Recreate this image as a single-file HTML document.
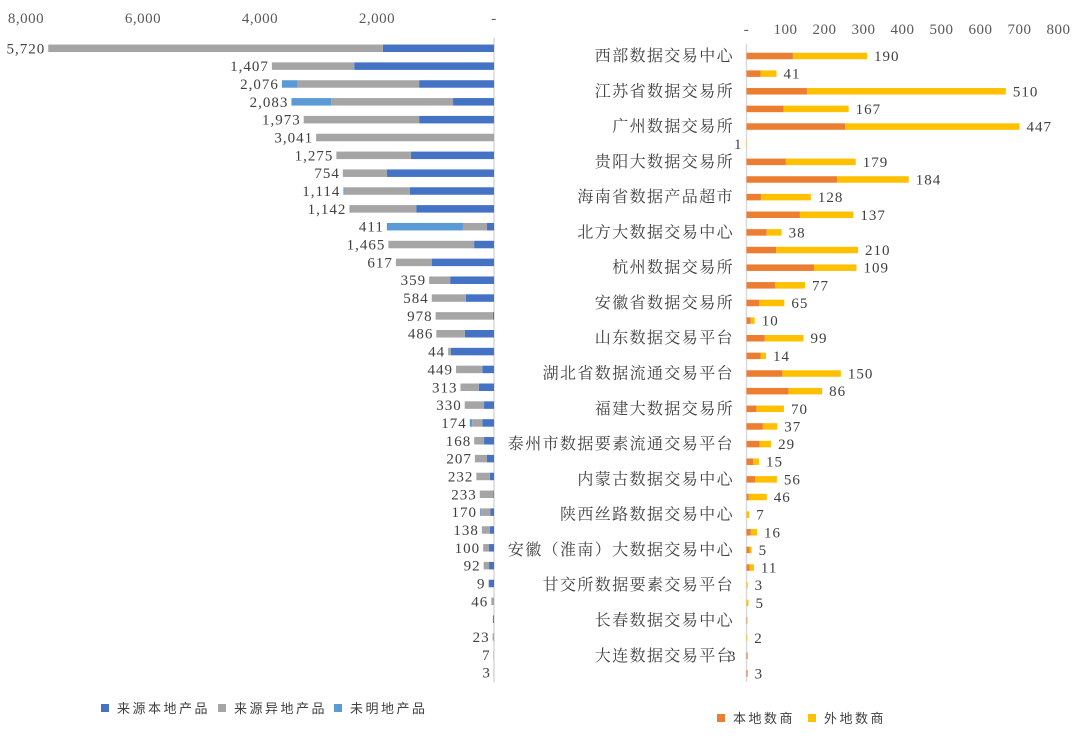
<!DOCTYPE html>
<html><head><meta charset="utf-8">
<style>
html,body{margin:0;padding:0;background:#fff;}
svg{display:block;font-family:"Liberation Serif","Noto Serif CJK SC",serif;}
.cat{font-family:"Liberation Serif","Noto Serif CJK SC",serif;font-size:16px;letter-spacing:1.4px;fill:#404040;}
.num{font-size:15px;letter-spacing:1px;fill:#404040;}
.tick{font-size:15px;letter-spacing:0.5px;fill:#595959;}
.leg{font-family:"Liberation Sans","Noto Sans CJK SC",sans-serif;font-size:13px;letter-spacing:2.5px;fill:#404040;}
</style></head>
<body>
<svg id="chart" width="1080" height="742" viewBox="0 0 1080 742" xmlns="http://www.w3.org/2000/svg"></svg>
<script>
// Left chart data (products)
const localProducts = [1900,2390,1280,700,1280,0,1420,1830,1440,1330,120,340,1060,750,480,20,500,740,200,260,170,200,170,120,70,10,60,70,85,85,85,0,15,0,0,0];
const remoteProducts = [5720,1407,2076,2083,1973,3041,1275,754,1114,1142,411,1465,617,359,584,978,486,44,449,313,330,174,168,207,232,233,170,138,100,92,9,46,0,23,7,3];
const unknownProducts = [0,0,270,680,0,0,0,0,20,0,1300,0,0,0,0,0,0,0,0,0,0,40,0,0,0,0,10,0,0,0,0,0,5,0,0,0];
const leftTicks = [8000,6000,4000,2000,0];
const leftTickLabels = ["8,000","6,000","4,000","2,000","-"];
// Right chart data (merchants)
const localMerchants = [119,36,155,95,253,0,101,232,37,137,52,76,173,73,32,11,47,36,92,108,26,42,34,17,22,6,0,11,8,8,0,0,2,0,3,3];
const remoteMerchants = [190,41,510,167,447,1,179,184,128,137,38,210,109,77,65,10,99,14,150,86,70,37,29,15,56,46,7,16,5,11,3,5,0,2,0,0];
const remoteLabels = ["190","41","510","167","447","1","179","184","128","137","38","210","109","77","65","10","99","14","150","86","70","37","29","15","56","46","7","16","5","11","3","5","","2","3","3"];
const rightTicks = [0,100,200,300,400,500,600,700,800];
const rightTickLabels = ["-","100","200","300","400","500","600","700","800"];
const categories = ["西部数据交易中心","江苏省数据交易所","广州数据交易所","贵阳大数据交易所","海南省数据产品超市","北方大数据交易中心","杭州数据交易所","安徽省数据交易所","山东数据交易平台","湖北省数据流通交易平台","福建大数据交易所","泰州市数据要素流通交易平台","内蒙古数据交易中心","陕西丝路数据交易中心","安徽（淮南）大数据交易中心","甘交所数据要素交易平台","长春数据交易中心","大连数据交易平台"];

const NS="http://www.w3.org/2000/svg";
const svg=document.getElementById('chart');
function mk(tag,attrs,parent){const e=document.createElementNS(NS,tag);for(const k in attrs)e.setAttribute(k,attrs[k]);(parent||svg).appendChild(e);return e;}

const L0=494, LS=0.0585;
const lx=v=>L0-v*LS;
const ly=i=>48.3+i*17.84;
const R0=746.5, RS=0.39;
const rx=v=>R0+v*RS;
const ry=i=>56+i*17.64;

const gL=mk('g',{});


leftTicks.forEach((t,i)=>{
  const e=mk('text',{x:lx(t),y:23,'text-anchor':'middle',class:'tick'},gL);
  e.textContent=leftTickLabels[i];
  
  
});
const axL=mk('line',{x1:L0,y1:38,x2:L0,y2:682,stroke:'#d9d9d9','stroke-width':1.5},gL);


const bh=7.5;
for(let i=0;i<36;i++){
  const y=ly(i);
  const a=localProducts[i], b=remoteProducts[i], c=unknownProducts[i];
  let r1=mk('rect',{x:lx(a),y:y-bh/2,width:a*LS,height:bh,fill:'#4472C4'},gL);
  
  
  let r2=mk('rect',{x:lx(a+b),y:y-bh/2,width:b*LS,height:bh,fill:'#A5A5A5'},gL);
  
  
  let r3=mk('rect',{x:lx(a+b+c),y:y-bh/2,width:c*LS,height:bh,fill:'#5B9BD5'},gL);
  
  
  if(b>0){
    const t=mk('text',{x:lx(a+b+c)-3,y:y+5,'text-anchor':'end',class:'num'},gL);
    t.textContent=b.toLocaleString('en-US');
    
    
  }
}

const gR=mk('g',{});


rightTicks.forEach((t,i)=>{
  const e=mk('text',{x:rx(t),y:34,'text-anchor':'middle',class:'tick'},gR);
  e.textContent=rightTickLabels[i];
  
  
});
const axR=mk('line',{x1:R0,y1:44,x2:R0,y2:682,stroke:'#d9d9d9','stroke-width':1.5},gR);


const rh=6.5;
for(let i=0;i<36;i++){
  const y=ry(i);
  const a=localMerchants[i], b=remoteMerchants[i];
  let r1=mk('rect',{x:rx(0),y:y-rh/2,width:a*RS,height:rh,fill:'#ED7D31'},gR);
  
  
  let r2=mk('rect',{x:rx(a),y:y-rh/2,width:b*RS,height:rh,fill:'#FFC000'},gR);
  
  
  if(remoteLabels[i]!==''){
    const t=mk('text',{x:(i==5?734:(i==34?728:rx(a+b)+7)),y:y+5,'text-anchor':'start',class:'num'},gR);
    t.textContent=remoteLabels[i];
    
    
  }
}
categories.forEach((c,k)=>{
  const t=mk('text',{x:734,y:ry(k*2)+5,'text-anchor':'end',class:'cat'},gR);
  t.textContent=c;
  
  
});

const legL=[["来源本地产品","#4472C4",101],["来源异地产品","#A5A5A5",218],["未明地产品","#5B9BD5",334]];
legL.forEach(l=>{
  const s=mk('rect',{x:l[2],y:704,width:8,height:8,fill:l[1]});
  
  
  const t=mk('text',{x:l[2]+16,y:713,class:'leg'});
  t.textContent=l[0];
  
  
});
const legR=[["本地数商","#ED7D31",717],["外地数商","#FFC000",808]];
legR.forEach(l=>{
  const s=mk('rect',{x:l[2],y:714,width:8,height:8,fill:l[1]});
  
  
  const t=mk('text',{x:l[2]+16,y:723,class:'leg'});
  t.textContent=l[0];
  
  
});
</script>
</body></html>
